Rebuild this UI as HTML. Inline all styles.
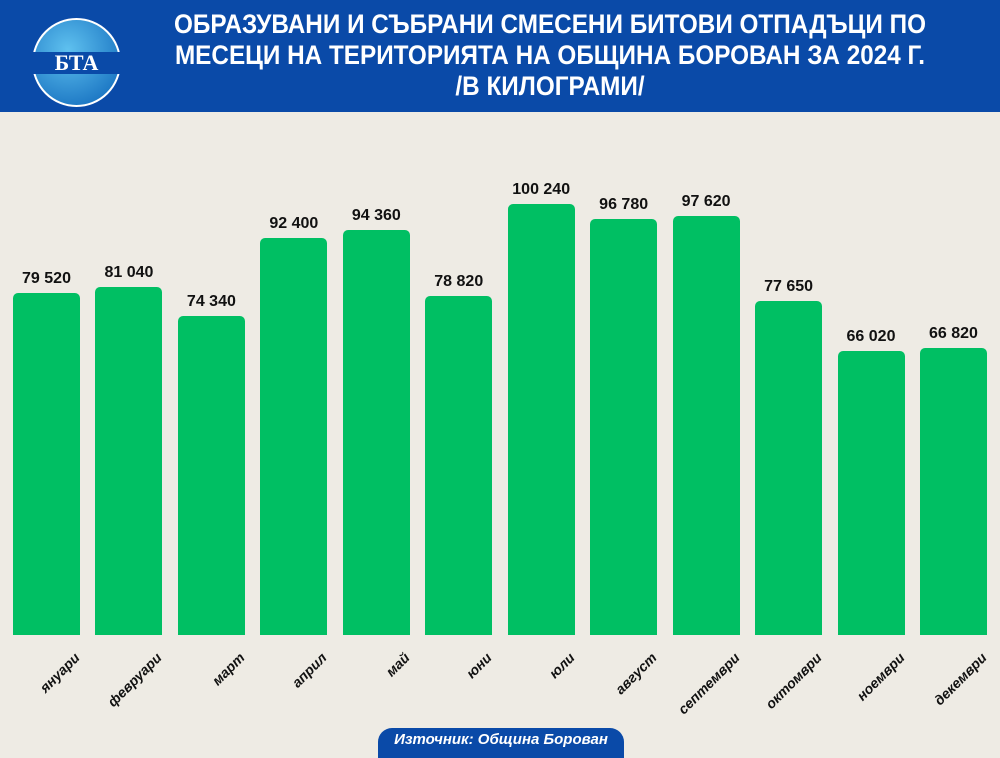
<!DOCTYPE html>
<html><head><meta charset="utf-8"><style>
body{margin:0;width:1000px;height:750px;overflow:hidden;background:#eeebe4;font-family:"Liberation Sans","DejaVu Sans",sans-serif;position:relative}
.hdr{position:absolute;left:0;top:0;width:1000px;height:112px;background:#0a4aa8}
.t{position:absolute;left:110px;width:880px;text-align:center;color:#fff;font-weight:bold;font-size:27px;line-height:31px;top:9px;transform:scaleX(.9)}
.logo{position:absolute;left:32px;top:18px;width:85px;height:85px;border-radius:50%;background:radial-gradient(circle at 40% 35%,#5fc1ef,#0a63b8);border:2px solid #fff}
.logo span{position:absolute;left:-2px;right:-2px;top:32px;text-align:center;color:#fff;font:bold 22px "Liberation Serif",serif;background:#0a4aa8;line-height:22px}
.bar{position:absolute;background:#00bf63;border-radius:5px 5px 0 0;width:67px}
.v{position:absolute;width:100px;text-align:center;font-weight:bold;font-size:16px;color:#111}
.l{position:absolute;font-style:italic;font-weight:bold;font-size:14px;color:#111;transform-origin:right center;transform:rotate(-45deg);white-space:nowrap;text-align:right;width:100px}
.src{position:absolute;left:378px;top:728px;width:246px;height:30px;background:#0a4aa8;border-radius:14px 14px 0 0;color:#fff;font-weight:bold;font-style:italic;font-size:15px;text-align:center;line-height:24px}
</style></head><body>
<div class="hdr"></div>
<div class="logo"><span>БТА</span></div>
<div class="t">ОБРАЗУВАНИ И СЪБРАНИ СМЕСЕНИ БИТОВИ ОТПАДЪЦИ ПО<br>МЕСЕЦИ НА ТЕРИТОРИЯТА НА ОБЩИНА БОРОВАН ЗА 2024 Г.<br>/В КИЛОГРАМИ/</div>
<div id="c"></div>
<div class="src">Източник: Община Борован</div>
<script>
const d=[["януари",79520,"79 520"],["февруари",81040,"81 040"],["март",74340,"74 340"],["април",92400,"92 400"],["май",94360,"94 360"],["юни",78820,"78 820"],["юли",100240,"100 240"],["август",96780,"96 780"],["септември",97620,"97 620"],["октомври",77650,"77 650"],["ноември",66020,"66 020"],["декември",66820,"66 820"]];
let h="";d.forEach((e,i)=>{const x=13+i*82.45,top=635-e[1]*0.004296;
h+=`<div class="bar" style="left:${x}px;top:${top}px;height:${635-top}px"></div><div class="v" style="left:${x-16.5}px;top:${top-23}px">${e[2]}</div><div class="l" style="left:${x-36}px;top:${647}px">${e[0]}</div>`});
document.getElementById("c").innerHTML=h;
</script>
</body></html>
